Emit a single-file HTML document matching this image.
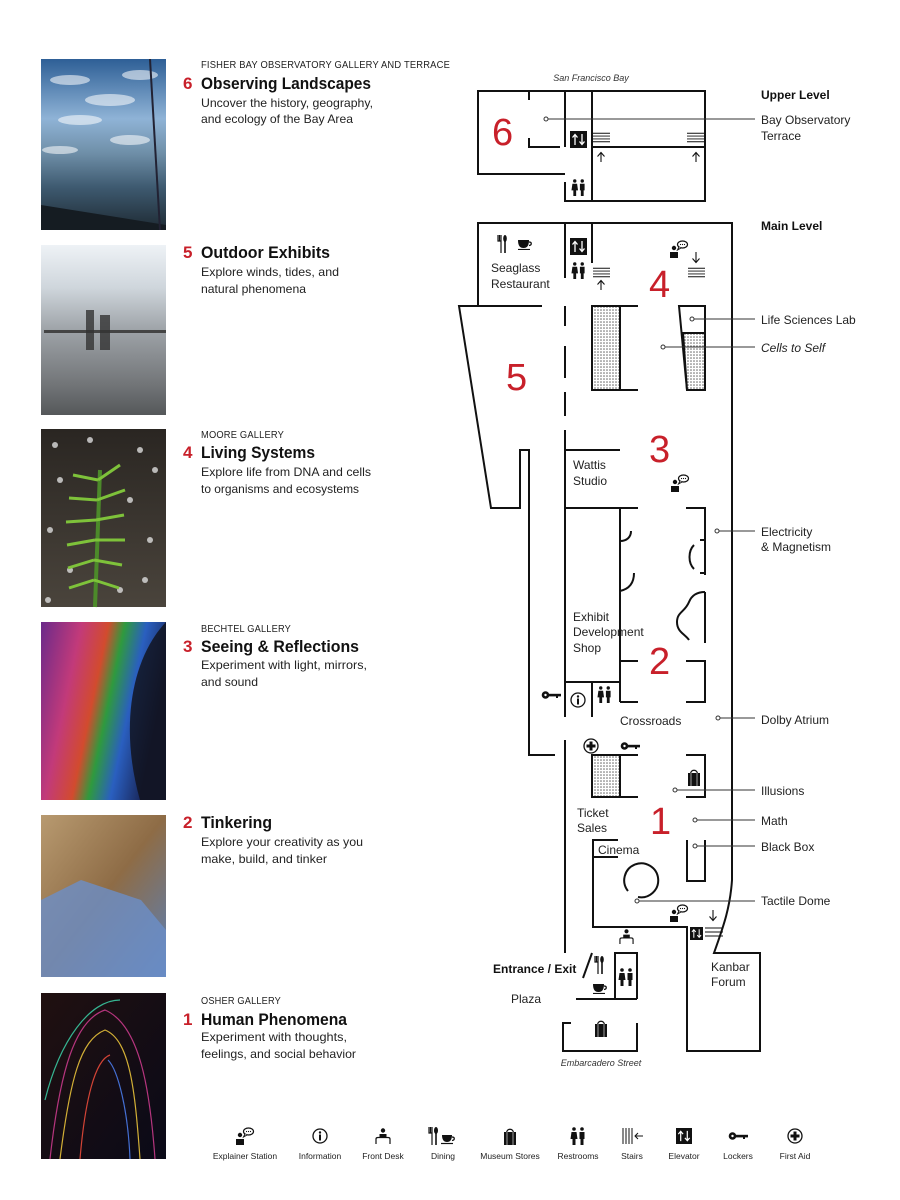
<!DOCTYPE html>
<html><head><meta charset="utf-8"><style>
html,body{margin:0;padding:0;background:#fff;}
svg{display:block;font-family:"Liberation Sans",sans-serif;}
.cap{font-size:10px;fill:#222;letter-spacing:0.2px}
.ttl{font-size:17px;font-weight:bold;fill:#111}
.num{font-size:17px;font-weight:bold;fill:#c8202a}
.dsc{font-size:12px;fill:#222}
.lbl{font-size:12px;fill:#222}
.big{font-size:38px;fill:#c8202a}
.leg{font-size:8.5px;fill:#222}
.w{stroke:#111;stroke-width:2;fill:none}
.ld{stroke:#333;stroke-width:1;fill:none}
</style></head><body>
<svg width="900" height="1200" viewBox="0 0 900 1200" xmlns="http://www.w3.org/2000/svg">
<defs>
<pattern id="dot" width="3" height="3" patternUnits="userSpaceOnUse"><rect width="3" height="3" fill="#fff"/><circle cx="1" cy="1" r="0.8" fill="#666"/></pattern>
<linearGradient id="g1" x1="0" y1="0" x2="0" y2="1"><stop offset="0" stop-color="#2e5f96"/><stop offset="0.35" stop-color="#8fb3d6"/><stop offset="0.55" stop-color="#6f8fa8"/><stop offset="0.75" stop-color="#3e5a70"/><stop offset="1" stop-color="#1e2a33"/></linearGradient>
<linearGradient id="g2" x1="0" y1="0" x2="0" y2="1"><stop offset="0" stop-color="#eef2f6"/><stop offset="0.25" stop-color="#cfd6dc"/><stop offset="0.5" stop-color="#9ea3a8"/><stop offset="0.8" stop-color="#75787b"/><stop offset="1" stop-color="#55585a"/></linearGradient>
<linearGradient id="g3" x1="0" y1="0" x2="0" y2="1"><stop offset="0" stop-color="#2a2622"/><stop offset="1" stop-color="#4a443c"/></linearGradient>
<linearGradient id="g4" x1="0" y1="0" x2="1" y2="0.3"><stop offset="0" stop-color="#6b2a8a"/><stop offset="0.3" stop-color="#c23a7a"/><stop offset="0.5" stop-color="#d24b2e"/><stop offset="0.62" stop-color="#2f9a3e"/><stop offset="0.78" stop-color="#2a5fc0"/><stop offset="1" stop-color="#1a2a60"/></linearGradient>
<linearGradient id="g5" x1="0" y1="0" x2="1" y2="1"><stop offset="0" stop-color="#b89a70"/><stop offset="0.5" stop-color="#8e6c46"/><stop offset="1" stop-color="#5a80b8"/></linearGradient>
<linearGradient id="g6" x1="0" y1="0" x2="1" y2="1"><stop offset="0" stop-color="#201010"/><stop offset="1" stop-color="#0a0a18"/></linearGradient>
<symbol id="expl" viewBox="0 0 20 18"><circle cx="5" cy="8" r="2.2" fill="#111"/><path d="M1 18v-6h8v6z" fill="#111"/><ellipse cx="13.5" cy="4.5" rx="5" ry="3.5" fill="#fff" stroke="#111" stroke-width="1.2"/><path d="M10 7l-1.5 3 3.5-2" fill="#fff" stroke="#111" stroke-width="1"/><circle cx="11.5" cy="4.5" r="0.6" fill="#111"/><circle cx="13.5" cy="4.5" r="0.6" fill="#111"/><circle cx="15.5" cy="4.5" r="0.6" fill="#111"/></symbol>
<symbol id="rest" viewBox="0 0 16 18"><circle cx="4" cy="2" r="1.8" fill="#111"/><path d="M1.5 5h5l1 7h-2v6h-3v-6h-2z" fill="#111"/><circle cx="12" cy="2" r="1.8" fill="#111"/><path d="M9.5 5h5v7h-1v6h-3v-6h-1z" fill="#111"/></symbol>
<symbol id="elev" viewBox="0 0 17 17"><rect width="17" height="17" fill="#111"/><path d="M5 14V4M2.5 6.5L5 3.5 7.5 6.5M12 3v10M9.5 10.5L12 13.5 14.5 10.5" stroke="#fff" stroke-width="1.3" fill="none"/></symbol>
<symbol id="key" viewBox="0 0 20 10"><circle cx="4.5" cy="5" r="3.8" fill="#111"/><circle cx="4.5" cy="5" r="1.2" fill="#fff"/><rect x="8" y="3.8" width="12" height="2.6" fill="#111"/><rect x="15" y="6" width="2" height="2" fill="#111"/></symbol>
<symbol id="aid" viewBox="0 0 16 16"><circle cx="8" cy="8" r="7" fill="#fff" stroke="#111" stroke-width="1.3"/><path d="M8 3.5v9M3.5 8h9" stroke="#111" stroke-width="3"/></symbol>
<symbol id="info" viewBox="0 0 16 16"><circle cx="8" cy="8" r="7" fill="#fff" stroke="#111" stroke-width="1.3"/><circle cx="8" cy="4.5" r="1.2" fill="#111"/><path d="M8 6.5v6" stroke="#111" stroke-width="2"/></symbol>
<symbol id="bag" viewBox="0 0 14 18"><path d="M3.5 6C3.5 1 10.5 1 10.5 6" stroke="#111" stroke-width="1.2" fill="none"/><rect x="1" y="5" width="12" height="13" fill="#111"/><path d="M4 5v13M10 5v13" stroke="#fff" stroke-width="0.6"/></symbol>
<symbol id="dine" viewBox="0 0 30 18"><path d="M1 0v6h3v12M2.5 0v6M4 0v6" stroke="#111" stroke-width="1.2" fill="none"/><ellipse cx="8" cy="3.5" rx="2" ry="3.5" fill="#111"/><path d="M8 6v12" stroke="#111" stroke-width="1.6"/><path d="M14 8h10c0 5-2 7-5 7s-5-2-5-7z" fill="#111"/><path d="M24 10c3 0 3 3 0 3.5" stroke="#111" stroke-width="1.3" fill="none"/><path d="M13 16.5h12" stroke="#111" stroke-width="1.2"/></symbol>
<symbol id="cup" viewBox="0 0 16 10"><path d="M0 0h11c0 6-2 8-5.5 8S0 6 0 0z" fill="#111"/><path d="M11 2c3 0 3 3 0 3.5" stroke="#111" stroke-width="1.3" fill="none"/><path d="M-1 9.5h13" stroke="#111" stroke-width="1.2"/></symbol>
<symbol id="fork" viewBox="0 0 10 18"><path d="M1 0v6h3v12M2.5 0v6M4 0v6" stroke="#111" stroke-width="1.2" fill="none"/><ellipse cx="8" cy="3.5" rx="1.8" ry="3.5" fill="#111"/><path d="M8 6v12" stroke="#111" stroke-width="1.6"/></symbol>
<symbol id="desk" viewBox="0 0 16 16"><circle cx="8" cy="2.5" r="2.2" fill="#111"/><path d="M4.5 10V6h7v4z" fill="#111"/><path d="M1 16v-5c0-1 1-1.5 2-1.5h10c1 0 2 .5 2 1.5v5" stroke="#111" stroke-width="1.2" fill="none"/></symbol>
<symbol id="stairs" viewBox="0 0 18 11"><path d="M0 1h18M0 4h18M0 7h18M0 10h18" stroke="#111" stroke-width="1"/></symbol>
</defs>

<!-- images -->
<rect x="41" y="59" width="125" height="171" fill="url(#g1)"/>
<g opacity="0.55" fill="#fff"><ellipse cx="70" cy="80" rx="20" ry="5"/><ellipse cx="110" cy="100" rx="25" ry="6"/><ellipse cx="80" cy="120" rx="22" ry="5"/><ellipse cx="140" cy="75" rx="18" ry="5"/><ellipse cx="60" cy="150" rx="18" ry="4"/><ellipse cx="130" cy="140" rx="20" ry="5"/></g>
<path d="M41 205L166 225V230H41z" fill="#151c22"/>
<path d="M150 59L160 230" stroke="#223" stroke-width="2"/>
<rect x="41" y="245" width="125" height="170" fill="url(#g2)"/>
<rect x="44" y="330" width="122" height="3" fill="#444"/>
<path d="M86 310h8v40h-8z M100 315h10v35h-10z" fill="#333" opacity="0.8"/>
<rect x="41" y="429" width="125" height="178" fill="url(#g3)"/>
<g fill="#ddd" opacity="0.8"><circle cx="55" cy="445" r="3"/><circle cx="90" cy="440" r="3"/><circle cx="140" cy="450" r="3"/><circle cx="60" cy="480" r="3"/><circle cx="130" cy="500" r="3"/><circle cx="50" cy="530" r="3"/><circle cx="150" cy="540" r="3"/><circle cx="70" cy="570" r="3"/><circle cx="120" cy="590" r="3"/><circle cx="155" cy="470" r="3"/><circle cx="48" cy="600" r="3"/><circle cx="145" cy="580" r="3"/></g>
<path d="M100 470L95 607" stroke="#4c8a2a" stroke-width="4"/>
<g stroke="#7ec23a" stroke-width="3"><path d="M98 480l-25 -5M98 480l22 -15M97 500l-28 -2M97 500l28 -10M96 520l-30 2M96 520l28 -5M95 540l-28 5M95 540l30 0M94 560l-26 8M94 560l28 5M94 580l-25 8M94 580l25 8"/></g>
<rect x="41" y="622" width="125" height="178" fill="url(#g4)"/>
<path d="M166 622C130 660 120 730 140 800H166z" fill="#101018" opacity="0.8"/>
<rect x="41" y="815" width="125" height="162" fill="url(#g5)"/>
<path d="M41 900l40 -20 60 20 25 30v47H41z" fill="#6c8fc8" opacity="0.8"/>
<rect x="41" y="993" width="125" height="166" fill="url(#g6)"/>
<g fill="none" stroke-width="1.2" opacity="0.9"><path d="M60 1159C70 1080 80 1040 105 1030C130 1040 135 1090 140 1159" stroke="#e8c23a"/><path d="M50 1159C60 1070 75 1020 105 1010C140 1025 150 1090 155 1159" stroke="#c83a8a"/><path d="M45 1100C60 1040 90 1000 120 1000" stroke="#3ac8a0"/><path d="M80 1159C85 1100 95 1060 110 1055" stroke="#e84a3a"/><path d="M130 1159C128 1110 118 1070 108 1060" stroke="#4a7ae8"/></g>

<!-- left column text -->
<text x="201" y="68" class="cap" textLength="249" lengthAdjust="spacingAndGlyphs">FISHER BAY OBSERVATORY GALLERY AND TERRACE</text>
<text x="183" y="89" class="num">6</text><text x="201" y="89" class="ttl" textLength="170" lengthAdjust="spacingAndGlyphs">Observing Landscapes</text>
<text x="201" y="107" class="dsc" textLength="172" lengthAdjust="spacingAndGlyphs">Uncover the history, geography,</text>
<text x="201" y="123" class="dsc" textLength="152" lengthAdjust="spacingAndGlyphs">and ecology of the Bay Area</text>

<text x="183" y="258" class="num">5</text><text x="201" y="258" class="ttl" textLength="129" lengthAdjust="spacingAndGlyphs">Outdoor Exhibits</text>
<text x="201" y="276" class="dsc" textLength="138" lengthAdjust="spacingAndGlyphs">Explore winds, tides, and</text>
<text x="201" y="293" class="dsc" textLength="105" lengthAdjust="spacingAndGlyphs">natural phenomena</text>

<text x="201" y="438" class="cap" textLength="83" lengthAdjust="spacingAndGlyphs">MOORE GALLERY</text>
<text x="183" y="458" class="num">4</text><text x="201" y="458" class="ttl" textLength="114" lengthAdjust="spacingAndGlyphs">Living Systems</text>
<text x="201" y="476" class="dsc" textLength="170" lengthAdjust="spacingAndGlyphs">Explore life from DNA and cells</text>
<text x="201" y="493" class="dsc" textLength="158" lengthAdjust="spacingAndGlyphs">to organisms and ecosystems</text>

<text x="201" y="632" class="cap" textLength="90" lengthAdjust="spacingAndGlyphs">BECHTEL GALLERY</text>
<text x="183" y="652" class="num">3</text><text x="201" y="652" class="ttl" textLength="158" lengthAdjust="spacingAndGlyphs">Seeing &amp; Reflections</text>
<text x="201" y="669" class="dsc" textLength="166" lengthAdjust="spacingAndGlyphs">Experiment with light, mirrors,</text>
<text x="201" y="686" class="dsc" textLength="57" lengthAdjust="spacingAndGlyphs">and sound</text>

<text x="183" y="828" class="num">2</text><text x="201" y="828" class="ttl" textLength="71" lengthAdjust="spacingAndGlyphs">Tinkering</text>
<text x="201" y="846" class="dsc" textLength="162" lengthAdjust="spacingAndGlyphs">Explore your creativity as you</text>
<text x="201" y="863" class="dsc" textLength="126" lengthAdjust="spacingAndGlyphs">make, build, and tinker</text>

<text x="201" y="1004" class="cap" textLength="80" lengthAdjust="spacingAndGlyphs">OSHER GALLERY</text>
<text x="183" y="1025" class="num">1</text><text x="201" y="1025" class="ttl" textLength="146" lengthAdjust="spacingAndGlyphs">Human Phenomena</text>
<text x="201" y="1041" class="dsc" textLength="146" lengthAdjust="spacingAndGlyphs">Experiment with thoughts,</text>
<text x="201" y="1058" class="dsc" textLength="155" lengthAdjust="spacingAndGlyphs">feelings, and social behavior</text>

<!-- upper level -->
<text x="591" y="81" font-size="9" font-style="italic" fill="#333" text-anchor="middle">San Francisco Bay</text>
<g class="w">
<path d="M565 174H478V91H705V201H565V182"/>
<path d="M529 91v9M529 138v9h31M565 91v56M592 91v110M592 147h113"/>
</g>
<text x="492" y="145" class="big">6</text>
<use href="#elev" x="570" y="131" width="17" height="17"/>
<use href="#stairs" x="593" y="132" width="17" height="11"/>
<use href="#stairs" x="687" y="132" width="17" height="11"/>
<path d="M601 162v-9M597.5 156.5l3.5-4 3.5 4M696 162v-9M692.5 156.5l3.5-4 3.5 4" stroke="#111" stroke-width="1.1" fill="none"/>
<use href="#rest" x="571" y="179" width="15" height="17"/>
<circle cx="546" cy="119" r="2" fill="#fff" stroke="#333"/><path d="M548 119H755" class="ld"/>

<!-- main level -->
<g class="w">
<path d="M478 306V223H732V880C730 910 722 930 714 953H760V1051H687V927H593V840"/>
<path d="M565 223v55M592 223v40"/>
<path d="M542 306H459L491 508H520V450H529V755H555"/>
<path d="M565 306v20M565 346v32M565 392v24M565 430v287M565 740v213"/>
<path d="M565 450h55M565 508h73M686 508h19V575M705 592v51M700 540h5M700 573h5"/>
<path d="M620 508V702M620 661h18M686 661h19V702H686M620 702h18M565 682h55M592 682v35"/>
<path d="M592 755h46M686 755h19V797H686M620 797h18"/>
<path d="M687 840v41h18V840"/>
<path d="M592 840h26M592 857h26"/>
<path d="M620 306h18M620 390h18"/>
<path d="M615 999V953h22v46M576 999h61"/>
<path d="M571 1023h-8v28h74v-28"/>
<path d="M583 978l9-25"/>
</g>
<g class="w" stroke-width="1.8">
<path d="M620 541c7 0 11-4 11-10"/>
<path d="M620 591c9-2 14-8 14-18"/>
<path d="M694 545c-6 6-6 18 0 24"/>
<path d="M705 592c-10 0-14 5-16 10c-4 10-12 10-12 20s8 12 12 18"/>
<path d="M628 891a17 17 0 1 1 10 6"/>
</g>
<rect x="592" y="306" width="28" height="84" fill="url(#dot)" stroke="#111" stroke-width="2"/>
<path d="M679 306H705V390H687Z" fill="#fff" stroke="#111" stroke-width="2"/>
<path d="M683 333H705V390H687Z" fill="url(#dot)" stroke="#111" stroke-width="2"/>
<rect x="592" y="755" width="28" height="42" fill="url(#dot)" stroke="#111" stroke-width="2"/>

<!-- map icons -->
<use href="#fork" x="497" y="235" width="10" height="18"/>
<use href="#cup" x="518" y="240" width="16" height="10"/>
<text x="491" y="272" class="lbl">Seaglass</text>
<text x="491" y="288" class="lbl">Restaurant</text>
<use href="#elev" x="570" y="238" width="17" height="17"/>
<use href="#rest" x="571" y="262" width="15" height="17"/>
<use href="#stairs" x="593" y="267" width="17" height="11"/>
<path d="M601 290v-9M597.5 284.5l3.5-4 3.5 4" stroke="#111" stroke-width="1.1" fill="none"/>
<use href="#stairs" x="688" y="267" width="17" height="11"/>
<path d="M696 252v10M692.5 258.5l3.5 4 3.5-4" stroke="#111" stroke-width="1.1" fill="none"/>
<use href="#expl" x="669" y="240" width="20" height="18"/>
<text x="649" y="297" class="big">4</text>
<text x="506" y="390" class="big">5</text>
<text x="649" y="462" class="big">3</text>
<text x="573" y="469" class="lbl">Wattis</text>
<text x="573" y="485" class="lbl">Studio</text>
<use href="#expl" x="670" y="474" width="20" height="18"/>
<text x="573" y="621" class="lbl">Exhibit</text>
<text x="573" y="636" class="lbl">Development</text>
<text x="573" y="652" class="lbl">Shop</text>
<text x="649" y="674" class="big">2</text>
<use href="#info" x="570" y="692" width="16" height="16"/>
<use href="#rest" x="597" y="686" width="15" height="17"/>
<use href="#key" x="541" y="690" width="20" height="10"/>
<text x="620" y="725" class="lbl">Crossroads</text>
<use href="#aid" x="583" y="738" width="16" height="16"/>
<use href="#key" x="620" y="741" width="20" height="10"/>
<use href="#bag" x="687" y="768" width="14" height="18"/>
<text x="577" y="817" class="lbl">Ticket</text>
<text x="577" y="832" class="lbl">Sales</text>
<text x="650" y="834" class="big">1</text>
<text x="598" y="854" class="lbl">Cinema</text>
<use href="#expl" x="669" y="904" width="20" height="18"/>
<use href="#elev" x="690" y="927" width="13" height="13"/>
<path d="M705 928h18M705 932h18M705 936h18" stroke="#111" stroke-width="1"/>
<path d="M713 910v10M709.5 916.5l3.5 4 3.5-4" stroke="#111" stroke-width="1.1" fill="none"/>
<use href="#desk" x="619" y="929" width="15" height="15"/>
<text x="493" y="973" font-size="12" font-weight="bold" fill="#111">Entrance / Exit</text>
<use href="#fork" x="594" y="956" width="10" height="18"/>
<use href="#cup" x="593" y="984" width="16" height="10"/>
<use href="#rest" x="618" y="968" width="16" height="18"/>
<text x="511" y="1003" class="lbl">Plaza</text>
<use href="#bag" x="594" y="1019" width="14" height="18"/>
<text x="601" y="1066" font-size="9" font-style="italic" fill="#333" text-anchor="middle">Embarcadero Street</text>
<text x="711" y="971" class="lbl">Kanbar</text>
<text x="711" y="986" class="lbl">Forum</text>

<!-- leaders -->
<g>
<circle cx="692" cy="319" r="2" fill="#fff" stroke="#333"/><path d="M694 319H755" class="ld"/>
<circle cx="663" cy="347" r="2" fill="#fff" stroke="#333"/><path d="M665 347H755" class="ld"/>
<circle cx="717" cy="531" r="2" fill="#fff" stroke="#333"/><path d="M719 531H755" class="ld"/>
<circle cx="718" cy="718" r="2" fill="#fff" stroke="#333"/><path d="M720 718H755" class="ld"/>
<circle cx="675" cy="790" r="2" fill="#fff" stroke="#333"/><path d="M677 790H755" class="ld"/>
<circle cx="695" cy="820" r="2" fill="#fff" stroke="#333"/><path d="M697 820H755" class="ld"/>
<circle cx="695" cy="846" r="2" fill="#fff" stroke="#333"/><path d="M697 846H755" class="ld"/>
<circle cx="637" cy="901" r="2" fill="#fff" stroke="#333"/><path d="M639 901H755" class="ld"/>
</g>
<text x="761" y="99" font-size="12" font-weight="bold" fill="#111">Upper Level</text>
<text x="761" y="124" class="lbl">Bay Observatory</text>
<text x="761" y="140" class="lbl">Terrace</text>
<text x="761" y="230" font-size="12" font-weight="bold" fill="#111">Main Level</text>
<text x="761" y="324" class="lbl">Life Sciences Lab</text>
<text x="761" y="352" class="lbl" font-style="italic">Cells to Self</text>
<text x="761" y="536" class="lbl">Electricity</text>
<text x="761" y="551" class="lbl">&amp; Magnetism</text>
<text x="761" y="724" class="lbl">Dolby Atrium</text>
<text x="761" y="795" class="lbl">Illusions</text>
<text x="761" y="825" class="lbl">Math</text>
<text x="761" y="851" class="lbl">Black Box</text>
<text x="761" y="905" class="lbl">Tactile Dome</text>

<!-- legend -->
<use href="#expl" x="235" y="1127" width="20" height="18"/>
<use href="#info" x="312" y="1128" width="16" height="16"/>
<use href="#desk" x="375" y="1128" width="16" height="16"/>
<use href="#dine" x="428" y="1127" width="30" height="18"/>
<use href="#bag" x="503" y="1127" width="14" height="18"/>
<use href="#rest" x="570" y="1127" width="16" height="18"/>
<path d="M623 1128v16M626 1128v16M629 1128v16M632 1128v16M635 1136h8M638 1133l-3 3 3 3" stroke="#111" stroke-width="1" fill="none"/>
<use href="#elev" x="676" y="1128" width="16" height="16"/>
<use href="#key" x="728" y="1131" width="20" height="10"/>
<use href="#aid" x="787" y="1128" width="16" height="16"/>
<g class="leg" text-anchor="middle">
<text x="245" y="1159">Explainer Station</text>
<text x="320" y="1159">Information</text>
<text x="383" y="1159">Front Desk</text>
<text x="443" y="1159">Dining</text>
<text x="510" y="1159">Museum Stores</text>
<text x="578" y="1159">Restrooms</text>
<text x="632" y="1159">Stairs</text>
<text x="684" y="1159">Elevator</text>
<text x="738" y="1159">Lockers</text>
<text x="795" y="1159">First Aid</text>
</g>
</svg>
</body></html>
